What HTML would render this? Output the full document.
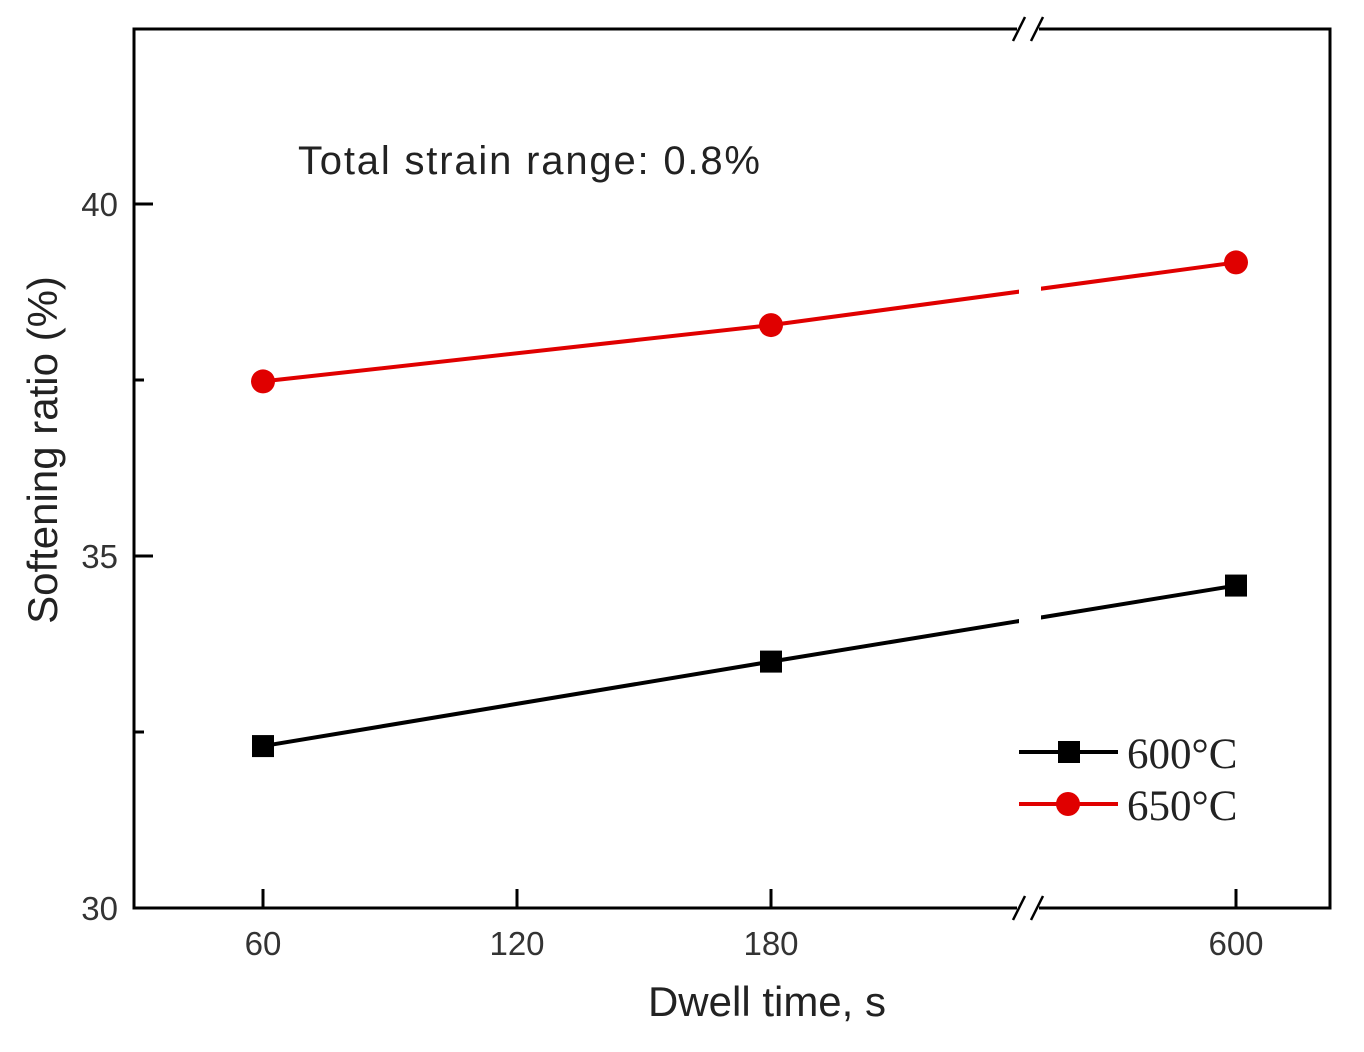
<!DOCTYPE html>
<html><head><meta charset="utf-8"><style>
html,body{margin:0;padding:0;background:#fff;}
svg text{font-family:"Liberation Sans",Arial,sans-serif;}
</style></head><body>
<svg id="chart" width="1364" height="1047" viewBox="0 0 1364 1047" xmlns="http://www.w3.org/2000/svg">
<g id="marks"></g>
<g id="axes"></g>
</svg>
<script>
const categories = [60, 180, 600];
const series600 = [32.3, 33.5, 34.58];
const series650 = [37.48, 38.28, 39.17];
const yTicks = [30, 35, 40];
const yMinor = [32.5, 37.5];
const xTicks = [60, 120, 180, 600];

const L=134, R=1330, T=29, B=908;
function y(v){ return 908 - (v-30)*70.4; }
function x(v){ return v<=300 ? 263 + (v-60)*(771-263)/120 : 1236 + (v-600)*4.23; }

const NS='http://www.w3.org/2000/svg';
function mk(tag, attrs, parent){
  const e=document.createElementNS(NS,tag);
  for(const k in attrs) e.setAttribute(k, attrs[k]);
  parent.appendChild(e); return e;
}
const marks=document.getElementById('marks');
const axes=document.getElementById('axes');

function drawSeries(vals, color, marker, name){
  const g=mk('g',{},marks);
  
  
  const pts=categories.map((c,i)=>x(c)+','+y(vals[i])).join(' ');
  const pl=mk('polyline',{points:pts,fill:'none',stroke:color,'stroke-width':4},g);
  
  
  categories.forEach((c,i)=>{
    let m;
    if(marker==='square') m=mk('rect',{x:x(c)-11,y:y(vals[i])-11,width:22,height:22,fill:color},g);
    else m=mk('circle',{cx:x(c),cy:y(vals[i]),r:12,fill:color},g);
    
    
  });
}
drawSeries(series600,'#000','square','series-600c');
drawSeries(series650,'#e00000','circle','series-650c');
const gap=mk('rect',{x:1019,y:T+3,width:22,height:B-T-6,fill:'#fff'},marks);



const fr=mk('rect',{x:L,y:T,width:R-L,height:B-T,fill:'none',stroke:'#000','stroke-width':3},axes);


[T,B].forEach(yy=>{
  const w=mk('rect',{x:1017,y:yy-3,width:22,height:6,fill:'#fff'},axes);
  
  
  [1013,1031].forEach(bx=>{
    const l=mk('line',{x1:bx,y1:yy+12,x2:bx+12,y2:yy-12,stroke:'#000','stroke-width':2.5},axes);
    
    
  });
});
yTicks.forEach(v=>{
  const t=mk('line',{x1:L,y1:y(v),x2:L+19,y2:y(v),stroke:'#000','stroke-width':3},axes);
  
  
  const tx=mk('text',{x:118,y:y(v)+12,'text-anchor':'end','font-size':33,fill:'#333'},axes);
  tx.textContent=v;
  
  
});
yMinor.forEach(v=>{
  const t=mk('line',{x1:L,y1:y(v),x2:L+10,y2:y(v),stroke:'#000','stroke-width':3},axes);
  
  
});
xTicks.forEach(v=>{
  const t=mk('line',{x1:x(v),y1:B,x2:x(v),y2:B-19,stroke:'#000','stroke-width':3},axes);
  
  
  const tx=mk('text',{x:x(v),y:955,'text-anchor':'middle','font-size':33,fill:'#333'},axes);
  tx.textContent=v;
  
  
});
const xt=mk('text',{x:767,y:1016,'text-anchor':'middle','font-size':42,fill:'#222'},axes);
xt.textContent='Dwell time, s';


const yt=mk('text',{x:0,y:0,'text-anchor':'middle','font-size':42,fill:'#222',transform:'translate(57,450) rotate(-90)'},axes);
yt.textContent='Softening ratio (%)';


const an=mk('text',{x:298,y:174,'font-size':40,fill:'#222',textLength:462},axes);
an.textContent='Total strain range: 0.8%';



const leg=[['600°C','#000','square',752],['650°C','#e00000','circle',804]];
leg.forEach(([lab,c,m,yy])=>{
  const g=mk('g',{},axes);
  
  
  mk('line',{x1:1019,y1:yy,x2:1118,y2:yy,stroke:c,'stroke-width':4},g);
  if(m==='square') mk('rect',{x:1058,y:yy-11,width:22,height:22,fill:c},g);
  else mk('circle',{cx:1068,cy:yy,r:12,fill:c},g);
  const t=mk('text',{x:1127,y:yy+16,'font-size':43,fill:'#222'},g);
  t.setAttribute('style','font-family:"Liberation Serif",serif');
  t.textContent=lab;
});
</script>
</body></html>
